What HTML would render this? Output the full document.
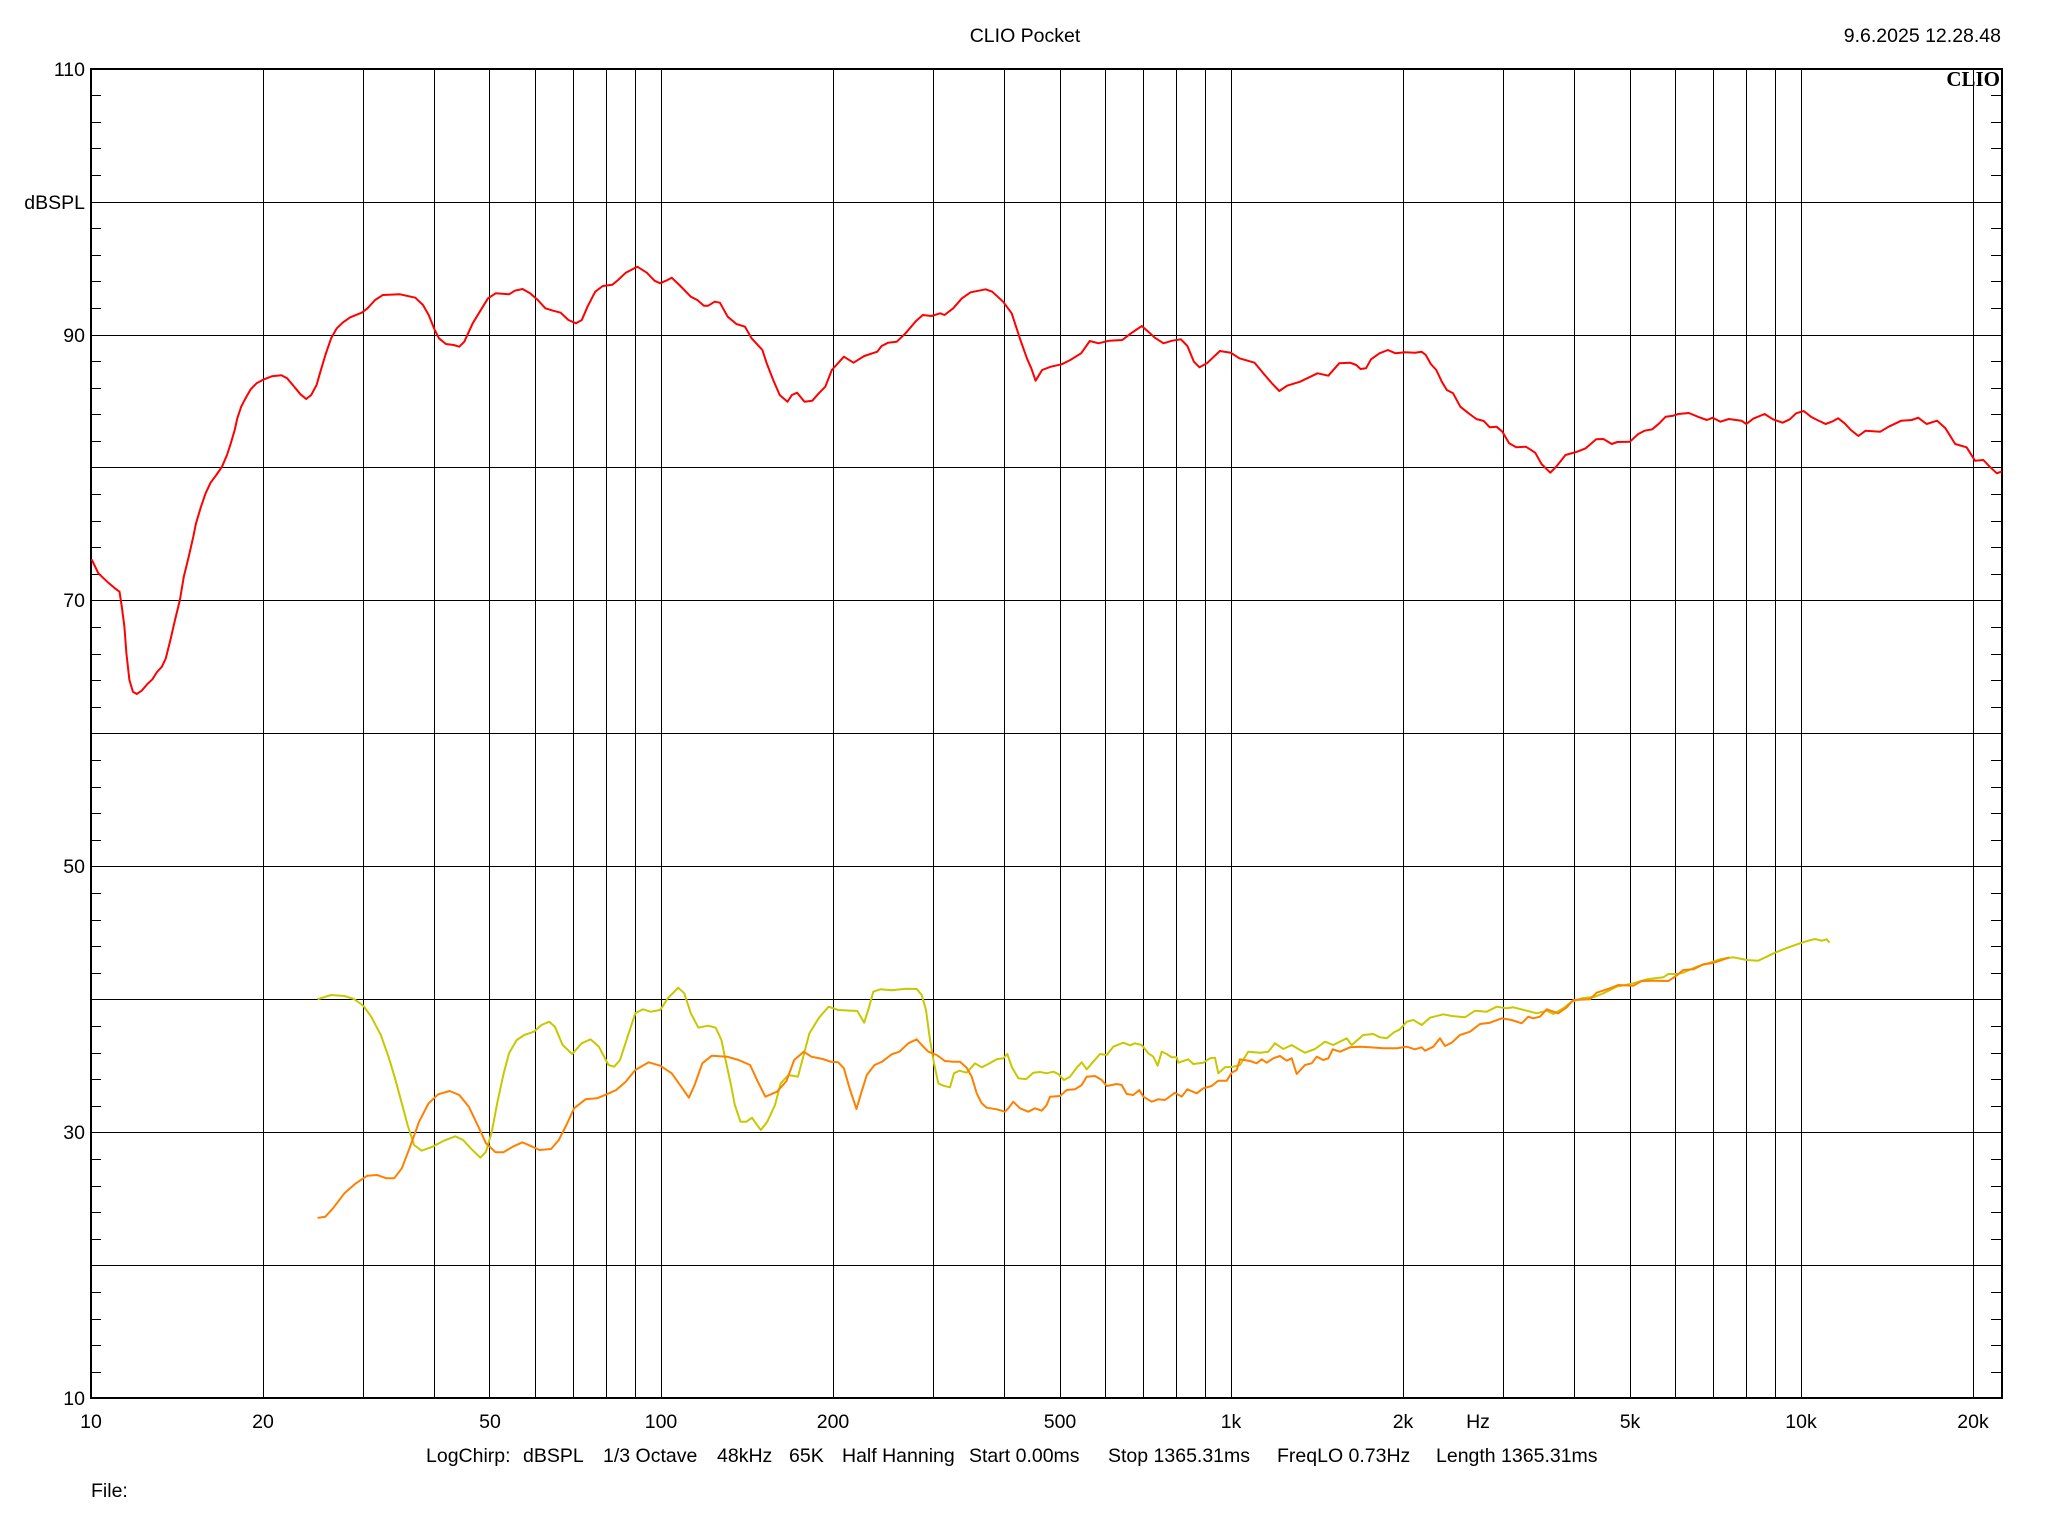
<!DOCTYPE html>
<html><head><meta charset="utf-8"><style>
html,body{margin:0;padding:0;background:#fff;}
svg{display:block;}
text{font-family:"Liberation Sans",Arial,sans-serif;font-size:19.5px;fill:#000;}
</style></head><body>
<svg width="2048" height="1536" viewBox="0 0 2048 1536" xmlns="http://www.w3.org/2000/svg">
<rect x="0" y="0" width="2048" height="1536" fill="#fff"/>
<g stroke="#000" stroke-width="1" shape-rendering="crispEdges" fill="none">
<path d="M263.5 69V1398M363.5 69V1398M434.5 69V1398M489.5 69V1398M535.5 69V1398M573.5 69V1398M606.5 69V1398M635.5 69V1398M661.5 69V1398M833.5 69V1398M933.5 69V1398M1004.5 69V1398M1060.5 69V1398M1105.5 69V1398M1143.5 69V1398M1176.5 69V1398M1205.5 69V1398M1231.5 69V1398M1403.5 69V1398M1503.5 69V1398M1574.5 69V1398M1630.5 69V1398M1675.5 69V1398M1713.5 69V1398M1746.5 69V1398M1775.5 69V1398M1801.5 69V1398M1973.5 69V1398"/>
<path d="M91 202.5H2002M91 335.5H2002M91 467.5H2002M91 600.5H2002M91 733.5H2002M91 866.5H2002M91 999.5H2002M91 1132.5H2002M91 1265.5H2002"/>
<path d="M92 95.5H101M92 122.5H101M92 148.5H101M92 175.5H101M92 228.5H101M92 255.5H101M92 281.5H101M92 308.5H101M92 361.5H101M92 388.5H101M92 414.5H101M92 441.5H101M92 494.5H101M92 521.5H101M92 547.5H101M92 574.5H101M92 627.5H101M92 654.5H101M92 680.5H101M92 707.5H101M92 760.5H101M92 787.5H101M92 813.5H101M92 840.5H101M92 893.5H101M92 920.5H101M92 946.5H101M92 973.5H101M92 1026.5H101M92 1053.5H101M92 1079.5H101M92 1106.5H101M92 1159.5H101M92 1186.5H101M92 1212.5H101M92 1239.5H101M92 1292.5H101M92 1319.5H101M92 1345.5H101M92 1372.5H101"/>
<path d="M1991 95.5H2001M1991 122.5H2001M1991 148.5H2001M1991 175.5H2001M1991 228.5H2001M1991 255.5H2001M1991 281.5H2001M1991 308.5H2001M1991 361.5H2001M1991 388.5H2001M1991 414.5H2001M1991 441.5H2001M1991 494.5H2001M1991 521.5H2001M1991 547.5H2001M1991 574.5H2001M1991 627.5H2001M1991 654.5H2001M1991 680.5H2001M1991 707.5H2001M1991 760.5H2001M1991 787.5H2001M1991 813.5H2001M1991 840.5H2001M1991 893.5H2001M1991 920.5H2001M1991 946.5H2001M1991 973.5H2001M1991 1026.5H2001M1991 1053.5H2001M1991 1079.5H2001M1991 1106.5H2001M1991 1159.5H2001M1991 1186.5H2001M1991 1212.5H2001M1991 1239.5H2001M1991 1292.5H2001M1991 1319.5H2001M1991 1345.5H2001M1991 1372.5H2001"/>
</g>
<rect x="91" y="69" width="1911" height="1329" fill="none" stroke="#000" stroke-width="2" shape-rendering="crispEdges"/>

<g fill="none" stroke-width="2" stroke-linejoin="round" stroke-linecap="round">
<polyline stroke="#ff0000" points="91.9,560 98.4,573.3 107.2,581.7 114.9,588.3 119.5,591.7 121.8,606.7 124.4,626.7 126.4,653.3 129.4,680 132.9,691.7 136.7,694 141.7,690.7 147.4,684 152.4,679.3 157,672 161.9,666.7 165.8,658.3 170.4,640 175,620 179.9,600 183.8,576.7 188.7,556.7 193.3,536.7 196,523.3 201,506.7 205.6,493.3 210.6,482.7 216.3,475 222,466.7 227,455 230.8,443.3 234.7,430 237.3,418.3 241.2,406.7 245,399.3 250.7,389.3 256.5,383.3 264.1,379.3 271.8,376.3 281.4,375.3 287.1,378.3 292.8,385 300.5,394.3 306.2,399 311.2,395 316.6,385 320.4,371.7 325.4,355 331.1,338.3 336.8,328.3 342.6,322.7 350.2,317.3 361.7,312.7 367.5,308.3 375.1,300 382.8,295 400,294.3 415.3,297.7 423,305 428.7,315 434.4,329.3 439,338.3 445.9,344 453.6,345 459.3,346.7 464.3,341.7 472.7,323.3 480.4,310.7 488,298.3 495.7,293.3 509.1,294.3 514.8,290.7 522.5,289 530.1,293.3 537.8,300 545.4,308.3 553.1,310.7 560.7,312.7 568.4,320 576,323.3 581.8,320 587.5,306.7 595.2,291.7 602.8,286 612.4,284.7 618.1,280 625.8,272.7 637.3,266.7 646.8,272.7 654.5,280.7 660.2,283.3 666,280.7 671.7,277.7 679.4,285 690.8,296.7 697.3,300 703.9,305.7 708.2,305.7 714.7,301.7 719.9,302.7 727.7,316.7 736.4,324 745,326.7 751.6,338.3 762.4,350 766.7,363.3 773.2,380 779.7,395 787.5,401.7 791.9,395 797.1,392.7 804.5,401.7 812.3,400.7 818.8,393.3 825.3,386.7 831.8,370 843.9,356.7 853.5,362.7 864.3,356 877.3,351.7 881.6,346 888.2,342.7 896.8,341.7 905.5,333.3 916.3,320.7 922.8,315 931.5,316 940.2,313.3 944.5,315 953.2,308.3 961.9,298.3 970.6,292.3 985.7,289.3 992.2,291.7 1003.1,301.7 1011.7,313.3 1020.4,340 1026.9,358.3 1031.3,368.3 1035.6,380.7 1042.1,370 1050.8,366.7 1061.6,364.3 1070.3,360 1081.1,353.3 1089.8,341 1098.5,343.3 1109.3,340.7 1122.3,340 1131,333.3 1141.8,326 1148.3,331.7 1154.8,337.7 1163.5,343.3 1172.2,340.7 1180.9,339.3 1187.4,346 1193.9,361.7 1199.5,367.3 1206.9,363.3 1219.9,351 1230.7,352.7 1239.4,358.3 1254.6,362.7 1263.3,373.3 1271.9,383.3 1279.3,391 1287.1,385.7 1300.1,381.7 1317.5,373.3 1328.3,375.7 1339.2,363.3 1350,362.7 1356.3,365 1360.5,369 1366,368.3 1371,359.3 1379.5,353.3 1387.9,350 1395.5,353.3 1404.7,352.3 1415.2,352.7 1421.5,351.7 1425.8,355 1430.8,364 1436.3,370 1441.8,381.7 1446.8,390 1453.1,393.3 1460.3,406.7 1467.8,412.7 1476.3,419 1483.8,421 1489.7,427.3 1496.5,426.7 1502.4,431.7 1509.1,443.3 1516.2,447.3 1525.9,446.7 1535.2,452.7 1541.5,464 1550.3,472.7 1556.2,466.7 1565.5,455 1577.3,451.7 1585.7,448.3 1596.2,439.3 1603.4,439 1611.8,444 1617.3,442 1629.9,441.7 1638.3,434 1644.6,430.7 1652.2,429.3 1659.3,423.3 1665.7,416.7 1673.2,415.7 1678.3,414 1688.8,413 1699.3,417.3 1706.9,420 1712.8,417.7 1720.4,421.7 1728.8,419 1741.4,420.7 1746.4,424 1753.2,418.7 1764.6,414 1773,419.3 1782.7,422.7 1789.8,419.3 1796.1,413.3 1803.7,411 1810.9,416.7 1817.2,420 1825.6,424 1831.9,421.7 1838.2,418.3 1844.6,423.3 1850.9,430 1858.4,436 1865.6,430.7 1880.3,431.7 1888.7,426.7 1901.3,420.7 1911.8,420 1918.2,417.7 1926.6,424 1937.1,420.7 1945.5,428.3 1955.2,444 1966.6,447.3 1975,460.7 1983.4,460 1989.7,466.7 1996.9,473.3 2001,471.7"/>
<polyline stroke="#c8c800" points="318.4,999 331,995 344.4,996 354,999 363.6,1006 371.2,1016.7 380.8,1035 388.5,1056.7 395,1078.3 401.8,1103.3 407.6,1125 414.1,1145 421.7,1150.7 432.5,1146.7 443.9,1140.7 455.4,1136.3 463.1,1140 470.7,1148.3 480.3,1157.7 486,1151.7 491.8,1131.7 497.5,1101.7 503.3,1075 509,1053.3 516.7,1040 524.3,1035 533.9,1031.7 541.5,1025 549.2,1021.7 554.9,1026.7 562.6,1045 572.2,1054 581.7,1043.3 590.5,1039.3 598.9,1046.7 608.5,1065 614.2,1066.7 620,1060 627.6,1036.7 635.3,1013.3 642.9,1009.3 650.6,1011.7 660.2,1010 667.8,998.3 678.2,987.7 684.3,993.3 690.8,1013.3 698.4,1027.7 708,1025.7 715.7,1027.7 721.4,1040 725.2,1058.3 731,1085 734.8,1105 740.5,1121.7 746.3,1121.7 752,1117.7 755.8,1123.3 760.8,1130 767.3,1121.7 775,1105 780.7,1083.3 788.4,1075 797.9,1076.7 803.7,1055 809.4,1033.3 819,1017.7 828.6,1006.7 838.1,1010 857.3,1011 864.2,1022.7 868.7,1008.3 873.3,991.7 880.2,989.3 891.7,990.3 901.3,989.3 906.7,988.7 916.7,989 921.7,995 926,1010 930,1040 934,1063.3 938.3,1083.3 943.3,1085.7 950,1087.3 954,1073.3 959.3,1070.7 966.7,1072.7 975,1063.3 981.7,1067.3 988.3,1064 996.7,1059.3 1003.3,1058.3 1007.3,1054 1011.7,1066.7 1018.3,1078.3 1026,1079.3 1033.3,1072.7 1040,1072 1046.7,1073.3 1053.3,1071.7 1058.3,1074 1064,1080 1070,1076.7 1076.7,1067.7 1081.7,1062.3 1086.7,1069.3 1093.3,1061.7 1100,1054 1106.7,1055 1113.3,1046.7 1123.3,1042.7 1130,1045.3 1135,1043.3 1141.7,1045 1148.3,1053.3 1153.3,1056.7 1157.7,1065.7 1161.7,1051.7 1166.7,1054 1171.7,1057.3 1176.7,1057.3 1178.3,1062.7 1188.3,1059.3 1193.3,1064 1203.3,1062.7 1210,1058.3 1215,1057.7 1218.3,1073.3 1225,1067.3 1233.3,1066.7 1240,1065 1248.3,1051.7 1260,1052.7 1268.3,1051.7 1275,1043.3 1283.3,1049 1291.7,1045 1298.3,1049 1305,1052.7 1315,1049 1325,1041.7 1333.3,1045 1346.7,1038.3 1351.7,1045 1363.3,1035 1373.3,1034 1380,1037.3 1386.7,1038.3 1393.3,1032.7 1400,1029.3 1406.7,1021.7 1413.3,1020 1421.7,1025 1430,1017.7 1443.3,1014.3 1451.7,1016 1465,1017.3 1475,1010.7 1486.7,1011.7 1496.7,1006.7 1506.7,1008.3 1513.3,1007.3 1526.7,1010.7 1536.7,1013.3 1546.7,1010.7 1553.3,1014 1563.3,1008.3 1571.7,1001.7 1581.7,998.3 1595,996.7 1603.3,993.3 1616.7,986.7 1633.3,983.3 1646.7,979.3 1663.3,977.3 1668.3,974 1676.7,974 1683.3,972.7 1696.7,966.7 1710,962.7 1720,959.3 1733.3,957.3 1746.7,960 1758.3,960.7 1766.7,956.7 1775,952.7 1786.7,948 1800,943.3 1808.3,940.7 1815,939 1821.7,940.7 1826.7,939.3 1829,942"/>
<polyline stroke="#ff8000" points="318.4,1217.7 325.3,1216.7 333,1208.3 344.4,1193.3 355.9,1183.3 367.4,1175.7 377,1175 386.5,1178.3 394.2,1178.3 401.8,1168.3 409.5,1148.3 419.1,1121.7 428.6,1103.3 438.2,1094.3 449.7,1091 459.3,1095 468.8,1106.7 478.4,1126.7 486,1143.3 495.6,1152.3 503.3,1152.3 512.8,1146.7 522.4,1142.3 530.1,1145.7 539.6,1150 551.1,1149 558.8,1140 566.4,1125 574.1,1108.3 585.5,1099.3 597,1098.3 606.6,1094.3 616.2,1090 625.7,1081.7 635.3,1070 648.7,1062.3 660.2,1065.7 671.7,1073.3 681.2,1086.7 688.9,1097.7 694.6,1085 702.3,1063.3 711.8,1055.7 727.1,1056.7 738.6,1060 750.1,1065 757.8,1081.7 765.4,1096.7 777,1091.7 786.5,1081 794.2,1060 803.7,1051.7 811.4,1056.7 822.8,1059 830.5,1061.7 838.1,1062.3 843.9,1068.3 849.6,1088.3 856.5,1109 861.1,1093.3 866.8,1075 874.5,1065 882.1,1061.7 891.7,1054.3 899.4,1051.7 908.3,1043.3 916.7,1039.3 921.7,1045 928.3,1051.7 936.7,1055 945,1061 953.3,1061.7 960,1061.7 966.7,1067.7 971.7,1076.7 976.7,1093.3 981.7,1103.3 986.7,1107.7 996.7,1109.3 1005,1111.7 1008.3,1108.3 1013.3,1101.7 1020,1108.3 1028.3,1111.7 1035,1108.3 1041.7,1110.7 1046.7,1105 1050,1096.7 1060,1096 1066.7,1090 1075,1089.3 1081.7,1085 1086.7,1076.7 1095,1076 1101.7,1080 1106.7,1086 1116.7,1084 1121.7,1085 1126.7,1094 1133.3,1095 1139.3,1090 1143.3,1096.7 1151.7,1101.7 1158.3,1099.3 1165,1100 1175,1092.7 1181.7,1096.7 1187.3,1089.3 1196.7,1093.3 1203.3,1088.3 1211.7,1086 1218.3,1080.7 1226.7,1080.7 1231.7,1072.7 1236.7,1070 1240,1059.3 1250,1061 1256.7,1063.3 1261.7,1059.3 1266.7,1062.7 1273.3,1058.3 1280,1056 1286.7,1060.7 1291.7,1058.3 1296.7,1074 1305,1065 1311.7,1063.3 1316.7,1056.7 1323.3,1060 1328.3,1058.3 1332.7,1049.3 1340,1051.7 1350,1047.3 1360,1046.7 1370,1047.3 1383.3,1048.3 1396.7,1048.3 1406.7,1046.7 1415,1049.3 1421.7,1047.3 1425,1050.7 1433.3,1046.7 1440,1038.3 1445,1046 1451.7,1042.7 1460,1035 1470,1031.7 1480,1024 1490,1022.7 1501.7,1018.3 1511.7,1020 1521.7,1023.3 1528.3,1016.7 1533.3,1018.3 1540,1016.7 1546.7,1009.3 1558.3,1013.3 1566.7,1007.3 1573.3,1000 1590,999.3 1596.7,992.7 1610,988.3 1618.3,985 1633.3,985.7 1641.7,981 1653.3,980.7 1668.3,981 1675,976.7 1683.3,970 1693.3,969.3 1703.3,964.3 1711.7,963.3 1720,960.7 1728.3,957.7"/>
</g>

<text x="1025" y="42" text-anchor="middle">CLIO Pocket</text>
<text x="2001" y="42" text-anchor="end">9.6.2025 12.28.48</text>
<text x="2000" y="86" text-anchor="end" style="font-family:'Liberation Serif','Times New Roman',serif;font-weight:bold;font-size:21px;">CLIO</text>

<g text-anchor="end">
<text x="85" y="76">110</text>
<text x="85" y="209">dBSPL</text>
<text x="85" y="342">90</text>
<text x="85" y="607">70</text>
<text x="85" y="873">50</text>
<text x="85" y="1139">30</text>
<text x="85" y="1405">10</text>
</g>

<g text-anchor="middle">
<text x="91" y="1428">10</text>
<text x="263" y="1428">20</text>
<text x="490" y="1428">50</text>
<text x="661" y="1428">100</text>
<text x="833" y="1428">200</text>
<text x="1060" y="1428">500</text>
<text x="1231" y="1428">1k</text>
<text x="1403" y="1428">2k</text>
<text x="1478" y="1428">Hz</text>
<text x="1630" y="1428">5k</text>
<text x="1801" y="1428">10k</text>
<text x="1973" y="1428">20k</text>
</g>

<text x="426" y="1462">LogChirp:</text>
<text x="523" y="1462">dBSPL</text>
<text x="603" y="1462">1/3 Octave</text>
<text x="717" y="1462">48kHz</text>
<text x="789" y="1462">65K</text>
<text x="842" y="1462">Half Hanning</text>
<text x="969" y="1462">Start 0.00ms</text>
<text x="1108" y="1462">Stop 1365.31ms</text>
<text x="1277" y="1462">FreqLO 0.73Hz</text>
<text x="1436" y="1462">Length 1365.31ms</text>

<text x="91" y="1497">File:</text>
</svg>
</body></html>
